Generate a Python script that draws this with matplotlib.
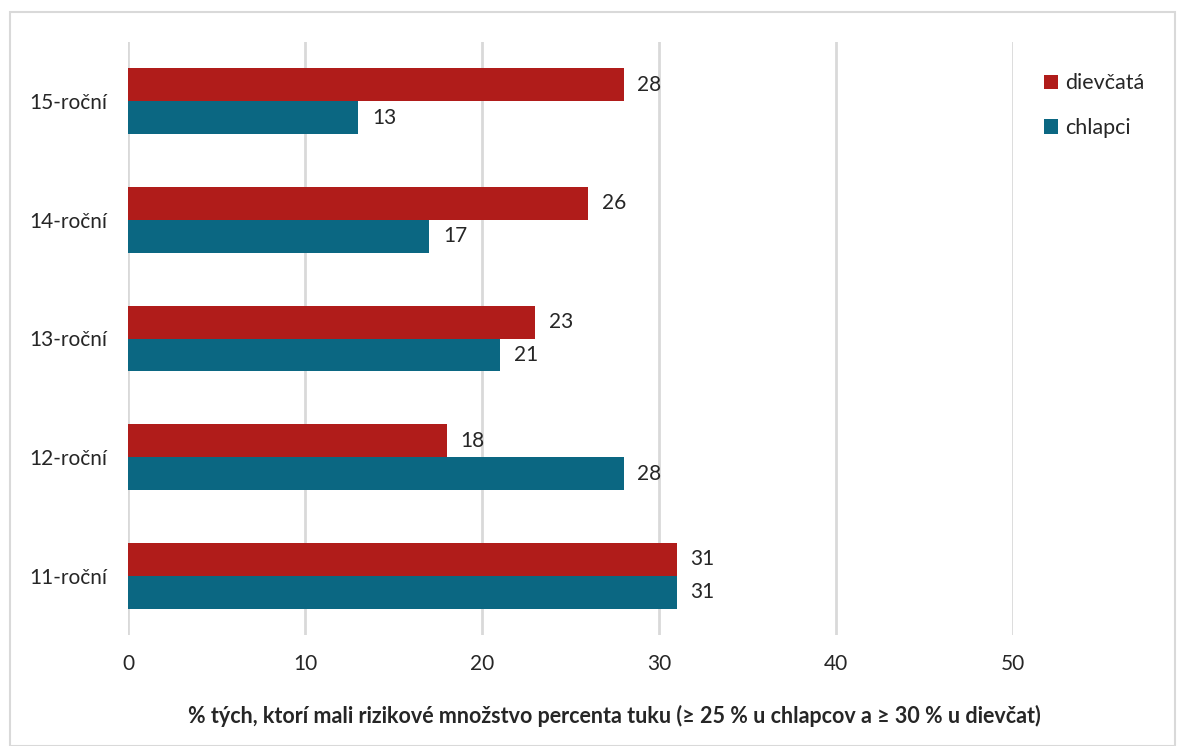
import matplotlib
matplotlib.use("Agg")
import matplotlib.pyplot as plt
import matplotlib.patches as mpatches
import numpy as np

categories = ["11-roční", "12-roční", "13-roční", "14-roční", "15-roční"]
girls = [31, 18, 23, 26, 28]
boys = [31, 28, 21, 17, 13]
series_names = ["dievčatá", "chlapci"]
xticks = [0, 10, 20, 30, 40, 50]
xlabel = "% tých, ktorí mali rizikové množstvo percenta tuku (≥ 25 % u chlapcov a ≥ 30 % u dievčat)"

RED = "#B01C1A"
TEAL = "#0B6782"
GRID = "#D9D9D9"
TXT = "#262626"

plt.rcParams['font.family'] = ['Lato', 'DejaVu Sans']

W, H = 1180, 746
fig = plt.figure(figsize=(W/100, H/100), dpi=100)
fig.patches.append(mpatches.Rectangle((10/W, 0), (1175-10)/W, (746-12)/H,
                                      transform=fig.transFigure, fill=False,
                                      edgecolor="#D9D9D9", linewidth=1.5))
ax = fig.add_axes([128/W, 1-635/H, (1013-128)/W, (635-42)/H])

y = np.arange(len(categories))
h = 0.277
ax.barh(y + h/2, girls, height=h, color=RED, label=series_names[0], zorder=3)
ax.barh(y - h/2, boys, height=h, color=TEAL, label=series_names[1], zorder=3)

FS = 15
for yi, g, b in zip(y, girls, boys):
    ax.annotate(str(g), (g, yi + h/2), xytext=(10, 0), textcoords="offset points",
                va="center", ha="left", fontsize=FS, color=TXT)
    ax.annotate(str(b), (b, yi - h/2), xytext=(10, 0), textcoords="offset points",
                va="center", ha="left", fontsize=FS, color=TXT)

ax.set_xlim(0, 50)
ax.set_ylim(-0.5, 4.5)
ax.set_xticks(xticks)
ax.set_xticklabels([str(t) for t in xticks], fontsize=FS, color=TXT)
ax.set_yticks(y)
ax.set_yticklabels(categories, fontsize=FS, color=TXT)
ax.tick_params(axis='both', length=0)
ax.tick_params(axis='x', pad=14)
ax.tick_params(axis='y', pad=15)
ax.grid(axis='x', color=GRID, linewidth=2, zorder=0)
for s in ax.spines.values():
    s.set_visible(False)

fig.text(614/W, 1-716/H, xlabel, ha="center", va="center", fontsize=15.5,
         fontweight="bold", color=TXT)

leg = fig.legend(loc="upper left", bbox_to_anchor=(1025/W, 1-54/H), frameon=False,
                 fontsize=15.5, handlelength=0.65, handleheight=0.65, handletextpad=0.3,
                 labelspacing=1.15, labelcolor=TXT)

fig.savefig("out.png", dpi=100)
